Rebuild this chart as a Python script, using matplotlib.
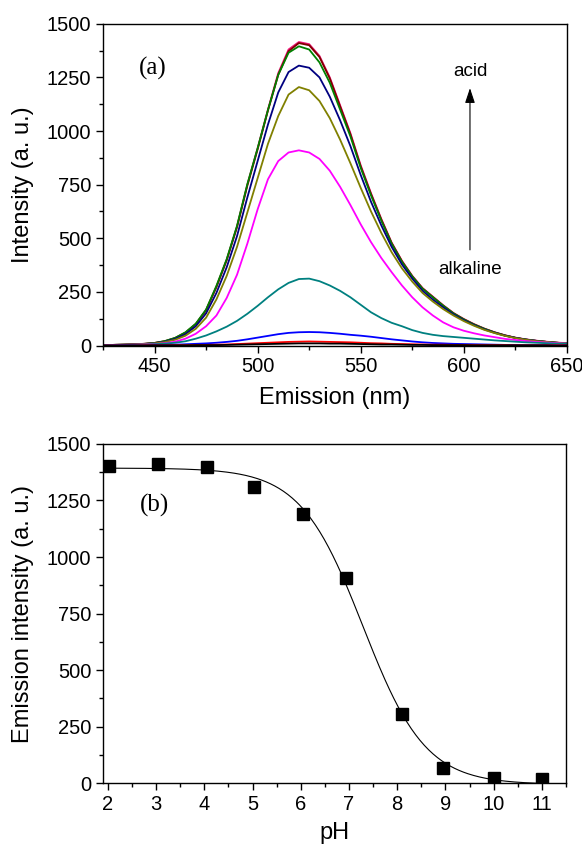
import numpy as np
import matplotlib
matplotlib.use("Agg")
import matplotlib.pyplot as plt
from matplotlib.ticker import MultipleLocator

plt.rcParams["font.family"] = ["Liberation Sans", "DejaVu Sans"]

# ---- panel (a): emission spectra, one per pH (values every 5 nm) ----
wavelength = list(range(425, 651, 5))

spec_ph2 = [2, 3, 4, 6, 8, 12, 20, 35, 60, 100, 165, 275, 400, 555, 750, 920,
            1100, 1270, 1380, 1415, 1405, 1350, 1250, 1120, 990, 840, 710, 590,
            480, 395, 325, 268, 228, 188, 152, 124, 100, 79, 62, 48, 37, 29, 23,
            18, 14, 11]
spec_ph3 = [2, 3, 4, 6, 8, 12, 20, 35, 60, 100, 165, 272, 398, 552, 745, 915,
            1095, 1262, 1372, 1410, 1400, 1345, 1245, 1115, 985, 835, 706, 587,
            478, 393, 323, 266, 226, 186, 150, 122, 98, 78, 61, 47, 36, 28, 22,
            17, 13, 10]
spec_ph4 = [2, 3, 4, 6, 8, 12, 21, 36, 62, 102, 168, 278, 403, 558, 752, 920,
            1098, 1262, 1365, 1395, 1380, 1320, 1225, 1100, 975, 828, 700, 582,
            475, 390, 322, 265, 225, 186, 150, 122, 98, 78, 61, 47, 36, 28, 22,
            17, 13, 10]
spec_ph5 = [2, 3, 4, 5, 7, 11, 18, 31, 53, 90, 150, 245, 365, 510, 690, 860,
            1030, 1180, 1275, 1305, 1295, 1250, 1160, 1050, 930, 795, 670, 560,
            460, 378, 312, 255, 214, 178, 145, 118, 95, 75, 59, 46, 36, 28, 22,
            17, 13, 10]
spec_ph6 = [2, 3, 4, 5, 7, 10, 16, 27, 46, 78, 130, 215, 325, 460, 620, 780,
            940, 1070, 1170, 1205, 1190, 1140, 1060, 960, 850, 735, 625, 525,
            435, 360, 298, 245, 205, 170, 140, 114, 92, 73, 58, 45, 35, 27, 21,
            17, 13, 10]
spec_ph7 = [1, 2, 3, 4, 5, 7, 11, 18, 32, 55, 90, 140, 222, 330, 475, 635,
            775, 860, 900, 910, 900, 870, 815, 740, 655, 565, 482, 408, 342,
            280, 225, 178, 140, 108, 85, 69, 57, 47, 39, 31, 26, 21, 17, 14,
            11, 9]
spec_ph8 = [1, 1, 2, 3, 4, 6, 9, 13, 20, 32, 47, 66, 88, 115, 148, 185, 225,
            262, 292, 310, 312, 300, 280, 255, 225, 190, 155, 128, 106, 90, 72,
            59, 50, 44, 40, 36, 32, 28, 24, 21, 18, 15, 13, 11, 9, 8]
spec_ph9 = [0, 0, 1, 1, 1, 2, 3, 4, 6, 8, 10, 13, 17, 22, 29, 37, 45, 53, 59,
            62, 63, 62, 59, 55, 50, 46, 41, 35, 29, 24, 19, 15, 12, 10, 8, 7,
            6, 5, 4, 3, 3, 2, 2, 2, 1, 1]
spec_ph10 = [0, 0, 0, 0, 1, 1, 1, 2, 2, 3, 3, 4, 5, 7, 9, 11, 13, 15, 17, 18,
             19, 18, 17, 16, 15, 13, 11, 10, 8, 7, 6, 5, 4, 4, 3, 3, 2, 2, 2,
             2, 1, 1, 1, 1, 1, 1]
spec_ph11 = [0, 0, 0, 0, 0, 1, 1, 1, 1, 2, 2, 2, 3, 4, 5, 6, 7, 8, 9, 10, 10,
             10, 9, 9, 8, 7, 6, 5, 5, 4, 3, 3, 2, 2, 2, 2, 1, 1, 1, 1, 1, 1, 1,
             1, 0, 0]

# drawing order: bottom first
SPECTRA = [
    (spec_ph2, "#f01478"),
    (spec_ph3, "#800000"),
    (spec_ph4, "#008000"),
    (spec_ph5, "#000080"),
    (spec_ph6, "#808000"),
    (spec_ph7, "#ff00ff"),
    (spec_ph8, "#008080"),
    (spec_ph9, "#0000ff"),
    (spec_ph10, "#ff0000"),
    (spec_ph11, "#000000"),
]

# ---- panel (b): intensity vs pH ----
ph = [2.02, 3.03, 4.05, 5.04, 6.05, 6.93, 8.09, 8.96, 10.0, 11.0]
intensity = [1403, 1413, 1398, 1308, 1192, 909, 306, 66, 22, 18]


def boltzmann_fit(x, y):
    """Least-squares Boltzmann fit (grid over x0, dx; A1, A2 linear)."""
    x = np.asarray(x, float)
    y = np.asarray(y, float)
    best = None
    for x0 in np.arange(6.5, 8.5, 0.01):
        for dx in np.arange(0.2, 1.2, 0.01):
            s = 1.0 / (1.0 + np.exp((x - x0) / dx))
            A = np.column_stack([s, 1 - s])
            coef = np.linalg.lstsq(A, y, rcond=None)[0]
            err = ((A @ coef - y) ** 2).sum()
            if best is None or err < best[0]:
                best = (err, coef[0], coef[1], x0, dx)
    return best[1:]


def style_axes(ax):
    for sp in ax.spines.values():
        sp.set_linewidth(1.0)
    ax.tick_params(which="both", direction="out", top=False, right=False,
                   labelsize=14.5, width=1.0)
    ax.tick_params(which="major", length=5)
    ax.tick_params(which="minor", length=3)


fig = plt.figure(figsize=(5.82, 8.49), dpi=100)

# (a)
ax1 = fig.add_axes([0.177, 0.593, 0.797, 0.379])
for y, c in SPECTRA:
    ax1.plot(wavelength, y, color=c, linewidth=1.3)
ax1.set_xlim(425, 650)
ax1.set_ylim(0, 1500)
ax1.xaxis.set_major_locator(MultipleLocator(50))
ax1.xaxis.set_minor_locator(MultipleLocator(25))
ax1.yaxis.set_major_locator(MultipleLocator(250))
ax1.yaxis.set_minor_locator(MultipleLocator(125))
style_axes(ax1)
ax1.set_xlabel("Emission (nm)", fontsize=17, labelpad=8)
ax1.set_ylabel("Intensity (a. u.)", fontsize=17, labelpad=9)
ax1.text(449, 1290, "(a)", fontsize=18, family="Liberation Serif",
         ha="center", va="center")
ax1.text(603, 1276, "acid", fontsize=13.5, ha="center", va="center")
ax1.text(603, 355, "alkaline", fontsize=13.5, ha="center", va="center")
ax1.annotate("", xy=(603, 1200), xytext=(603, 446),
             arrowprops=dict(arrowstyle="-|>,head_length=0.9,head_width=0.3",
                             color="#555555", lw=0.8, fc="black", ec="black",
                             shrinkA=0, shrinkB=0))

# (b)
ax2 = fig.add_axes([0.177, 0.0774, 0.7955, 0.3997])
a1, a2, x0, dx = boltzmann_fit(ph, intensity)
xf = np.linspace(2, 11, 300)
yf = a2 + (a1 - a2) / (1 + np.exp((xf - x0) / dx))
ax2.plot(xf, yf, color="black", linewidth=0.8)
ax2.plot(ph, intensity, "s", color="black", markersize=8.5)
ax2.set_xlim(1.9, 11.5)
ax2.set_ylim(0, 1500)
ax2.xaxis.set_major_locator(MultipleLocator(1))
ax2.xaxis.set_minor_locator(MultipleLocator(0.5))
ax2.yaxis.set_major_locator(MultipleLocator(250))
ax2.yaxis.set_minor_locator(MultipleLocator(125))
style_axes(ax2)
ax2.set_xlabel("pH", fontsize=17, labelpad=6)
ax2.set_ylabel("Emission intensity (a. u.)", fontsize=17, labelpad=9)
ax2.text(2.96, 1230, "(b)", fontsize=18, family="Liberation Serif",
         ha="center", va="center")

fig.savefig("out.png", dpi=100)
